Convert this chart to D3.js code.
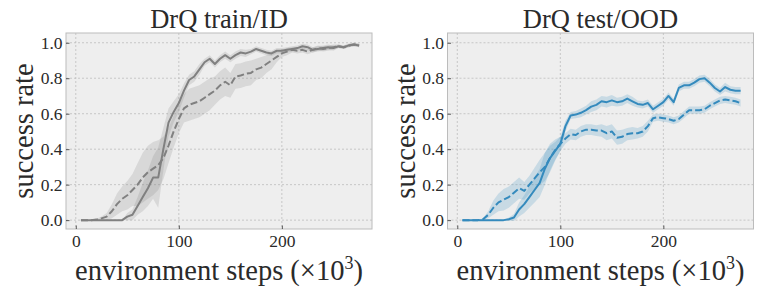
<!DOCTYPE html>
<html>
<head>
<meta charset="utf-8">
<script src="https://cdn.jsdelivr.net/npm/d3@7"></script>
</head>
<body style="margin:0; background:#fff">
<div id="chart"></div>
<script>
// environment steps (x10^3)
const steps = [5, 10, 15, 20, 25, 30, 35, 40, 45, 50, 55, 60, 65, 70, 75, 80, 85, 90, 95, 100,
  105, 110, 115, 120, 125, 130, 135, 140, 145, 150, 155, 160, 165, 170, 175, 180, 185, 190, 195, 200,
  205, 210, 215, 220, 225, 230, 235, 240, 245, 250, 255, 260, 265, 270, 275];

// DrQ train/ID
const trainSolid = [0, 0, 0, 0, 0, 0, 0, 0, 0, 0.02, 0.03, 0.08, 0.13, 0.18, 0.24, 0.24, 0.40, 0.55, 0.61, 0.66,
  0.73, 0.79, 0.81, 0.85, 0.89, 0.91, 0.88, 0.91, 0.93, 0.91, 0.93, 0.945, 0.94, 0.95, 0.965, 0.955, 0.945, 0.94, 0.955, 0.955,
  0.96, 0.965, 0.97, 0.98, 0.975, 0.96, 0.965, 0.97, 0.975, 0.97, 0.98, 0.975, 0.985, 0.99, 0.985];
const trainSolidSpread = [0, 0, 0, 0, 0, 0, 0, 0, 0, 0.02, 0.03, 0.05, 0.08, 0.1, 0.12, 0.17, 0.12, 0.08, 0.06, 0.05,
  0.04, 0.03, 0.03, 0.03, 0.02, 0.02, 0.02, 0.02, 0.02, 0.02, 0.02, 0.02, 0.02, 0.015, 0.015, 0.015, 0.015, 0.015, 0.015, 0.015,
  0.015, 0.015, 0.015, 0.015, 0.015, 0.015, 0.015, 0.015, 0.015, 0.015, 0.01, 0.01, 0.01, 0.01, 0.01];
const trainDashed = [0, 0, 0, 0.003, 0.01, 0.02, 0.05, 0.09, 0.12, 0.14, 0.17, 0.2, 0.24, 0.27, 0.29, 0.31, 0.35, 0.42, 0.5, 0.57,
  0.63, 0.65, 0.66, 0.67, 0.69, 0.71, 0.73, 0.76, 0.78, 0.76, 0.81, 0.815, 0.825, 0.83, 0.85, 0.86, 0.88, 0.9, 0.92, 0.94,
  0.95, 0.96, 0.955, 0.96, 0.95, 0.96, 0.97, 0.965, 0.97, 0.975, 0.98, 0.975, 0.985, 0.99, 0.985];
const trainDashedSpread = [0, 0, 0, 0.005, 0.01, 0.02, 0.04, 0.06, 0.07, 0.08, 0.09, 0.12, 0.14, 0.15, 0.15, 0.14, 0.12, 0.1, 0.09, 0.08,
  0.08, 0.09, 0.09, 0.09, 0.09, 0.09, 0.08, 0.08, 0.08, 0.07, 0.07, 0.07, 0.07, 0.07, 0.06, 0.06, 0.05, 0.05, 0.03, 0.02,
  0.02, 0.015, 0.015, 0.015, 0.015, 0.015, 0.015, 0.015, 0.015, 0.015, 0.01, 0.01, 0.01, 0.01, 0.01];

// DrQ test/OOD
const testSolid = [0, 0, 0, 0, 0, 0, 0, 0, 0, 0.005, 0.015, 0.06, 0.09, 0.13, 0.17, 0.21, 0.29, 0.35, 0.39, 0.43,
  0.53, 0.59, 0.595, 0.605, 0.62, 0.64, 0.65, 0.67, 0.665, 0.675, 0.665, 0.67, 0.685, 0.67, 0.655, 0.65, 0.66, 0.625, 0.645, 0.665,
  0.70, 0.665, 0.745, 0.76, 0.76, 0.775, 0.795, 0.80, 0.775, 0.745, 0.725, 0.75, 0.735, 0.73, 0.73];
const testSolidSpread = [0, 0, 0, 0, 0, 0, 0, 0, 0, 0.01, 0.02, 0.04, 0.05, 0.06, 0.07, 0.08, 0.09, 0.07, 0.05, 0.04,
  0.03, 0.02, 0.02, 0.025, 0.025, 0.03, 0.03, 0.03, 0.03, 0.03, 0.025, 0.025, 0.025, 0.025, 0.02, 0.02, 0.02, 0.02, 0.02, 0.02,
  0.02, 0.02, 0.02, 0.02, 0.02, 0.02, 0.02, 0.02, 0.02, 0.02, 0.02, 0.025, 0.02, 0.02, 0.02];
const testDashed = [0, 0, 0, 0, 0.005, 0.03, 0.07, 0.1, 0.115, 0.13, 0.155, 0.18, 0.165, 0.2, 0.235, 0.27, 0.3, 0.35, 0.395, 0.43,
  0.46, 0.485, 0.48, 0.5, 0.51, 0.51, 0.505, 0.505, 0.49, 0.5, 0.465, 0.47, 0.485, 0.49, 0.49, 0.5, 0.53, 0.575, 0.58, 0.575,
  0.57, 0.56, 0.57, 0.595, 0.62, 0.62, 0.62, 0.625, 0.645, 0.66, 0.675, 0.68, 0.675, 0.67, 0.66];
const testDashedSpread = [0, 0, 0, 0, 0.005, 0.02, 0.04, 0.05, 0.06, 0.06, 0.06, 0.06, 0.05, 0.05, 0.06, 0.07, 0.08, 0.08, 0.06, 0.04,
  0.03, 0.03, 0.03, 0.03, 0.03, 0.03, 0.03, 0.035, 0.04, 0.04, 0.04, 0.04, 0.035, 0.035, 0.03, 0.03, 0.03, 0.02, 0.02, 0.02,
  0.02, 0.02, 0.02, 0.02, 0.02, 0.02, 0.02, 0.02, 0.02, 0.02, 0.02, 0.02, 0.02, 0.02, 0.02];

const xTicks = [0, 100, 200];
const yTicks = [0, 0.2, 0.4, 0.6, 0.8, 1.0];

const panels = [
  { title: 'DrQ train/ID', color: '#808080', left: 66, solid: trainSolid, solidSpread: trainSolidSpread,
    dashed: trainDashed, dashedSpread: trainDashedSpread },
  { title: 'DrQ test/OOD', color: '#348ABD', left: 447.5, solid: testSolid, solidSpread: testSolidSpread,
    dashed: testDashed, dashedSpread: testDashedSpread }
];

const W = 761, H = 294;
const plotW = 306, plotTop = 33, plotH = 196;
const FONT = 'Liberation Serif';
const INK = '#2a2a2a';

const svg = d3.select('#chart').append('svg')
  .attr('width', W)
  .attr('height', H)
  .attr('font-family', FONT);

panels.forEach(p => {
  const g = svg.append('g').attr('transform', `translate(${p.left}, ${plotTop})`);

  const x = d3.scaleLinear().domain([-9.5, 287.5]).range([0, plotW]);
  const y = d3.scaleLinear().domain([-0.05, 1.055]).range([plotH, 0]);

  g.append('rect')
    .attr('width', plotW)
    .attr('height', plotH)
    .attr('fill', '#eeeeee');

  // grid
  g.selectAll('.hgrid').data(yTicks).enter().append('line')
    .attr('x1', 0).attr('x2', plotW)
    .attr('y1', d => y(d)).attr('y2', d => y(d))
    .attr('stroke', '#bdbdbd').attr('stroke-width', 0.8)
    .attr('stroke-dasharray', '2,2');
  g.selectAll('.vgrid').data(xTicks).enter().append('line')
    .attr('y1', 0).attr('y2', plotH)
    .attr('x1', d => x(d)).attr('x2', d => x(d))
    .attr('stroke', '#bdbdbd').attr('stroke-width', 0.8)
    .attr('stroke-dasharray', '2,2');

  const series = [
    { mean: p.solid, spread: p.solidSpread, dash: null },
    { mean: p.dashed, spread: p.dashedSpread, dash: '7,3' }
  ];

  const area = d3.area()
    .x((d, i) => x(steps[i]))
    .y0(d => y(d[0] - d[1]))
    .y1(d => y(d[0] + d[1]));

  series.forEach(s => {
    g.append('path')
      .datum(s.mean.map((m, i) => [m, s.spread[i]]))
      .attr('d', area)
      .attr('fill', p.color)
      .attr('fill-opacity', 0.2);
  });

  const line = d3.line()
    .x((d, i) => x(steps[i]))
    .y(d => y(d));

  series.forEach(s => {
    g.append('path')
      .datum(s.mean)
      .attr('d', line)
      .attr('fill', 'none')
      .attr('stroke', p.color)
      .attr('stroke-width', 2)
      .attr('stroke-linejoin', 'round')
      .attr('stroke-dasharray', s.dash);
  });

  // frame
  g.append('rect')
    .attr('width', plotW)
    .attr('height', plotH)
    .attr('fill', 'none')
    .attr('stroke', '#bcbcbc')
    .attr('stroke-width', 1);

  // axes, ticks point inward
  const xAxis = g.append('g')
    .attr('transform', `translate(0, ${plotH})`)
    .call(d3.axisBottom(x).tickValues(xTicks).tickSize(-3.5).tickPadding(6).tickFormat(d3.format('d')));
  const yAxis = g.append('g')
    .call(d3.axisLeft(y).tickValues(yTicks).tickSize(-3.5).tickPadding(3.5).tickFormat(d3.format('.1f')));

  [xAxis, yAxis].forEach(a => {
    a.attr('font-family', FONT).attr('font-size', 17.5);
    a.select('.domain').remove();
    a.selectAll('.tick line').attr('stroke', '#333').attr('stroke-width', 0.8);
    a.selectAll('.tick text')
      .attr('font-family', FONT)
      .attr('font-size', 17.5)
      .attr('fill', INK);
  });

  g.append('text')
    .attr('x', plotW / 2)
    .attr('y', -5)
    .attr('text-anchor', 'middle')
    .attr('font-family', FONT)
    .attr('font-size', 26.5)
    .attr('fill', INK)
    .text(p.title);

  g.append('text')
    .attr('x', plotW / 2)
    .attr('y', 247)
    .attr('text-anchor', 'middle')
    .attr('font-family', FONT)
    .attr('font-size', 28.5)
    .attr('fill', INK)
    .html('environment steps (×10<tspan dy="-11" font-size="18">3</tspan><tspan dy="11">)</tspan>');

  g.append('text')
    .attr('transform', `translate(-33, ${plotH / 2}) rotate(-90)`)
    .attr('text-anchor', 'middle')
    .attr('font-family', FONT)
    .attr('font-size', 28.5)
    .attr('fill', INK)
    .text('success rate');
});
</script>
</body>
</html>
